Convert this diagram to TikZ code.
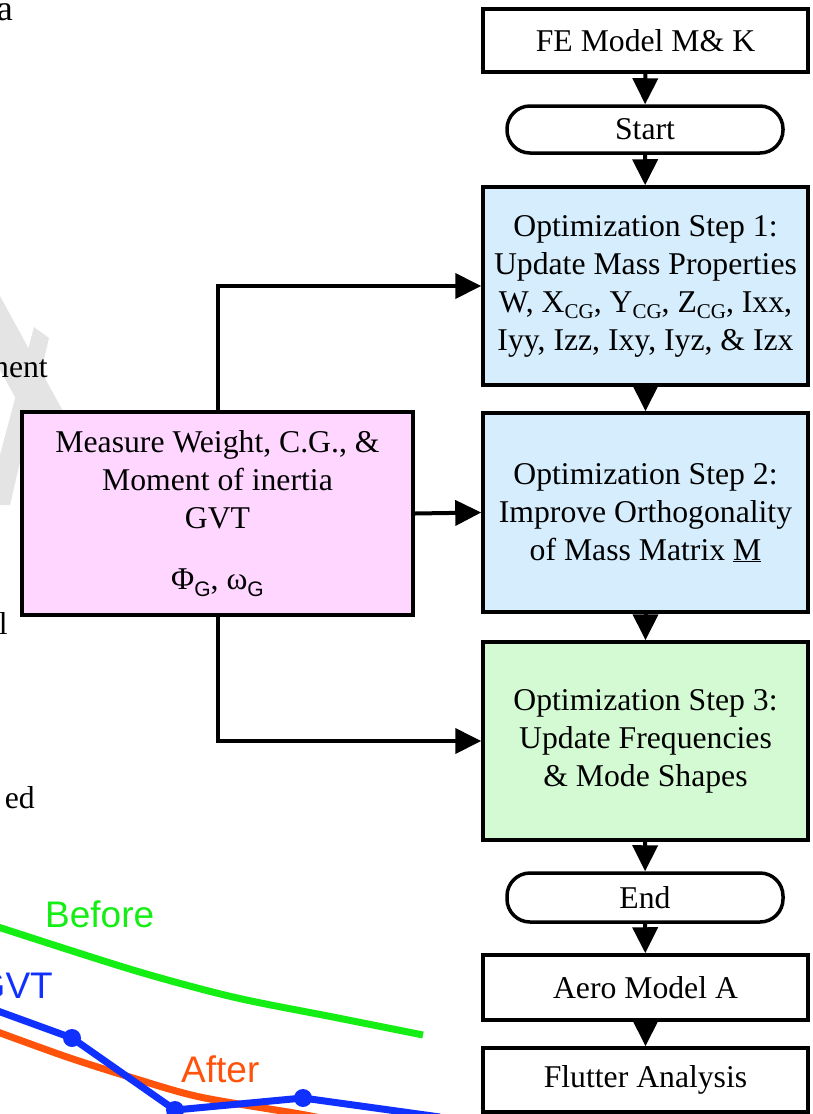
\documentclass[tikz,border=0pt]{standalone}
\usepackage{fontspec}
\setmainfont{Liberation Serif}
\newfontfamily\plotfont{Liberation Sans}
\usetikzlibrary{arrows.meta}

\definecolor{stepblue}{RGB}{213,237,252}
\definecolor{stepgreen}{RGB}{212,250,212}
\definecolor{measpink}{RGB}{255,214,255}
\definecolor{wmgray}{RGB}{228,228,228}
\definecolor{beforegreen}{RGB}{20,238,20}
\definecolor{gvtblue}{RGB}{16,48,255}
\definecolor{afterorange}{RGB}{255,82,10}

\newcommand{\lowsub}[1]{\raisebox{-0.2em}{\fontsize{21}{21}\selectfont #1}}
\newcommand{\lowsubsf}[1]{\raisebox{-0.2em}{\fontsize{21}{21}\plotfont #1}}

\begin{document}
\begin{tikzpicture}[x=1pt,y=-1pt,
    box/.style={draw, line width=3.5pt, minimum width=325pt, align=center, inner sep=0pt,
        font=\fontsize{31.7}{38}\selectfont},
    term/.style={box, minimum width=276pt, rounded corners=23pt},
    frag/.style={inner sep=0pt, font=\fontsize{31.7}{38}\selectfont},
    plotlabel/.style={inner sep=0pt, font=\fontsize{37}{40}\plotfont},
    arr/.style={line width=4pt, -{Triangle[width=25pt,length=26pt]}},
    curve/.style={line width=7pt}]
    \useasboundingbox (0,0) rectangle (812,1114);
    \clip (0,0) rectangle (812,1114);

    % watermark behind the left box
    \fill[wmgray] (0,296) -- (70,424) -- (30,424) -- (0,370) -- cycle; % stem
    \fill[wmgray] (34,327) -- (49,338) -- (10,505) -- (0,505) -- (0,455) -- cycle; % bar

    % pieces of the text on the left
    \node[frag, anchor=base east, font=\fontsize{36}{40}\selectfont] (fa) at (13,20) {a};
    \node[frag, anchor=base east] (fnent) at (48,377) {nent};
    \node[frag, anchor=base east] (fl) at (8,634) {l};
    \node[frag, anchor=base east] (fed) at (35,808) {ed};

    % plot in the lower left corner
    \draw[curve, beforegreen] plot[smooth] coordinates {(-5,926) (133,970) (233,997) (333,1017) (423,1035)};
    \draw[curve, afterorange] plot[smooth] coordinates {(-5,1031) (67,1057) (133,1078) (200,1097) (300,1114) (330,1120)};
    \draw[curve, gvtblue] (-5,1010) -- (72,1038) -- (175,1110) -- (303,1098) -- (440,1117);
    \foreach \p in {(72,1038),(175,1110),(303,1098)}
        \fill[gvtblue] \p circle (9);
    \node[plotlabel, beforegreen, anchor=base west] (lbefore) at (45,927) {Before};
    \node[plotlabel, gvtblue, anchor=base east] (lgvt) at (53,998) {GVT};
    \node[plotlabel, afterorange, anchor=base west] (lafter) at (181,1082) {After};

    % flow chart
    \node[box, minimum height=63pt] (fe) at (645.5,40.5) {FE Model M\& K};
    \node[term, minimum height=47pt] (start) at (645,129.5) {Start};
    \node[box, fill=stepblue, minimum height=198pt] (step1) at (645.5,286)
        {Optimization Step 1:\\Update Mass Properties\\W, X\lowsub{CG}, Y\lowsub{CG}, Z\lowsub{CG}, Ixx,\\Iyy, Izz, Ixy, Iyz, \& Izx};
    \node[box, fill=stepblue, minimum height=199pt] (step2) at (645.5,512.5)
        {Optimization Step 2:\\Improve Orthogonality\\of Mass Matrix \underline{M}};
    \node[box, fill=stepgreen, minimum height=198pt] (step3) at (645.5,741)
        {Optimization Step 3:\\Update Frequencies\\\& Mode Shapes};
    \node[term, minimum height=49pt] (end) at (645,897.5) {End};
    \node[box, minimum height=65pt] (aero) at (645.5,987.5) {Aero Model A};
    \node[box, minimum height=64pt] (flutter) at (645.5,1080) {Flutter Analysis};
    \node[box, fill=measpink, minimum width=391pt, minimum height=203pt] (meas) at (217.5,513.5)
        {Measure Weight, C.G., \&\\Moment of inertia\\GVT\\[23pt]Φ\lowsubsf{G}, ω\lowsubsf{G}};

    \draw[arr] (fe) -- (start);
    \draw[arr] (start) -- (step1);
    \draw[arr] (step1) -- (step2);
    \draw[arr] (step2) -- (step3);
    \draw[arr] (step3) -- (end);
    \draw[arr] (end) -- (aero);
    \draw[arr] (aero) -- (flutter);
    \draw[arr] (meas.north) |- (step1.west);
    \draw[arr] (meas.east) -- (step2.west);
    \draw[arr] (meas.south) |- (step3.west);

\end{tikzpicture}
\end{document}
